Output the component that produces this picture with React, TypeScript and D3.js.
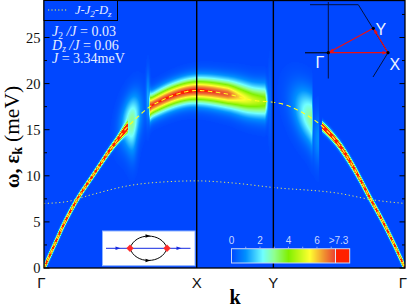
import React, { useMemo } from "react";
import * as d3 from "d3";

const W = 411, H = 307;
const M = { l: 44, r: 405, t: 0.5, b: 268 };

// k path: Gamma - X - Y - Gamma
const kTicks = [0, 1, 1.502, 2.364];
const kLabels = ["Γ", "X", "Y", "Γ"];
const yTicks = [0, 5, 10, 15, 20, 25];
const yMinor = [2.5, 7.5, 12.5, 17.5, 22.5, 27.5];

// magnon dispersion J-J2-Dz
const dispK = [0, .072, .137, .223, .327, .419, .476, .542, .648, .714, .869, 1, 1.205, 1.362, 1.513, 1.598, 1.709, 1.82, 1.926, 2.024, 2.141, 2.22, 2.292, 2.364];
const dispW = [0, 2.65, 5, 7.6, 10.2, 12.5, 13.8, 15.2, 16.9, 17.7, 18.85, 19.25, 18.85, 18.2, 17.95, 17.6, 16.7, 15.4, 13.5, 11, 7.4, 5, 2.6, 0];

// lower dotted curve
const lowK = [0, .15, .3, .58, .8, 1, 1.25, 1.502, 1.93, 2.15, 2.364];
const lowW = [7, 7.2, 7.9, 9, 9.35, 9.45, 9.2, 8.73, 8.1, 7.4, 7];

// spectral intensity along the band
const ampK = [0, .47, .545, .552, .687, .697, 1, 1.205, 1.27, 1.362, 1.447, 1.473, 1.817, 1.824, 2.364];
const ampV = [11, 11, 12, 0, 0, 7.3, 7.5, 7.1, 6, 5, 4.4, 0, 0, 12, 10];
const sigK = [0, .367, .47, .545, .687, .697, 1, 1.218, 1.447, 1.817, 1.906, 2.07, 2.364];
const sigV = [1.3, 1.4, 1.8, 2.5, 9, 9, 11.5, 12.5, 15, 2.7, 2.2, 1.5, 1.3];

// damped humps next to the decay thresholds
const blobK = [1.755, .575, 1.8, .58, .681, 1.48];
const blobW = [16.2, 16.2, 14, 14, 18.5, 18];
const blobLeft = [.11, .07, .04, .04, .012, .012];
const blobRight = [.004, .06, .003, .03, .012, .01];
const blobSig = [2.6, 2.4, 2.6, 2.6, 2.5, 3.5];
const blobTilt = [-13, 13, 0, 0, 0, 0];
const blobAmp = [2.9, 2.5, 1, .9, 1.2, .5];

// colour map
const cmapV = [0, 1, 2.2, 3, 4, 5.5, 6.5, 7.2, 7.3];
const cmapC = ["#0047ff", "#0090ff", "#70ffff", "#90ff90", "#80f000", "#ffff30", "#f09030", "#ea4a30", "#ff2000"];
const barTicks = [0, 2, 4, 6];

const x = d3.scaleLinear().domain([0, 2.364]).range([M.l, M.r]);
const y = d3.scaleLinear().domain([0, 29]).range([M.b, M.b - 29 * 9.22]);
const color = d3.scaleLinear<string>().domain(cmapV).range(cmapC).clamp(true);
const ampS = d3.scaleLinear().domain(ampK).range(ampV);
const sigS = d3.scaleLinear().domain(sigK).range(sigV);
const barX = d3.scaleLinear().domain([0, 7.3]).range([231.5, 335.5]);

// smooth reading of the dispersion between its read points
const dispT = dispK.map((k, i) => {
  const a = Math.max(0, i - 1), b = Math.min(dispK.length - 1, i + 1);
  return (dispW[b] - dispW[a]) / (dispK[b] - dispK[a]);
});
function dispS(k: number) {
  const c = Math.max(0, Math.min(2.364, k));
  const i = Math.min(dispK.length - 2, Math.max(0, d3.bisectRight(dispK, c) - 1));
  const h = dispK[i + 1] - dispK[i], t = (c - dispK[i]) / h;
  const t2 = t * t, t3 = t2 * t;
  return (2 * t3 - 3 * t2 + 1) * dispW[i] + (t3 - 2 * t2 + t) * h * dispT[i] + (-2 * t3 + 3 * t2) * dispW[i + 1] + (t3 - t2) * h * dispT[i + 1];
}
const dispFine = d3.range(0, 2.3641, 0.01);

function intensity(px: number, py: number) {
  const k = x.invert(px), w = y.invert(py);
  const bandY = y(dispS(k));
  const dk = 2 / 152.7;
  const slope = (y(dispS(k + dk)) - y(dispS(k - dk))) / 4;
  const vs = sigS(k) * Math.sqrt(1 + slope * slope);
  const d = Math.abs(py - bandY) / vs;
  let v = ampS(k) * Math.exp(-Math.pow(d, 1.8));
  blobK.forEach((bk, i) => {
    const dx = k - bk;
    const sx = dx < 0 ? blobLeft[i] : blobRight[i];
    const dw = (w - blobW[i] - blobTilt[i] * dx) / blobSig[i];
    v += blobAmp[i] * Math.exp(-(dx * dx) / (sx * sx) - dw * dw);
  });
  return v;
}

const serif = "'Liberation Serif', serif";
const sans = "'Liberation Sans', sans-serif";

const Heat = React.memo(function Heat() {
  const cells = useMemo(() => {
    const out: { px: number; py: number; c: string }[] = [];
    for (const px of d3.range(M.l, M.r)) {
      for (const py of d3.range(1, M.b)) {
        const v = intensity(px + .5, py + .5);
        if (v > .04) out.push({ px, py, c: color(v) });
      }
    }
    return out;
  }, []);
  return (
    <g shapeRendering="crispEdges">
      {cells.map((c) => <rect key={c.px * 1000 + c.py} x={c.px} y={c.py} width={1} height={1} fill={c.c} />)}
    </g>
  );
});

function arrowHead(cx: number, cy: number, ang: number, size: number, fill: string) {
  const p = d3.path();
  const a = (ang * Math.PI) / 180;
  const c = Math.cos(a), s = Math.sin(a);
  p.moveTo(cx + size * c, cy + size * s);
  p.lineTo(cx - size * c - size * .7 * s, cy - size * s + size * .7 * c);
  p.lineTo(cx - size * c + size * .7 * s, cy - size * s - size * .7 * c);
  p.closePath();
  return <path d={p.toString()} fill={fill} />;
}

export default function App() {
  const line = d3.line<number>().x((k) => x(k)).y((k) => y(dispS(k)));
  const lowLine = d3.line<number>().x((_, i) => x(lowK[i])).y((d) => y(d)).curve(d3.curveMonotoneX);
  const barCols = d3.range(Math.ceil(barX(0)), 336);
  const G = { x: 328.3, y: 52.7 }, X = { x: 388, y: 52.7 }, Y = { x: 373.3, y: 28.3 };
  const txt = "#e6eeff";
  return (
    <svg width={W} height={H} style={{ position: "absolute", left: 0, top: 0, background: "#fff" }}>
      <rect x={M.l} y={M.t} width={M.r - M.l} height={M.b - M.t} fill="#0047ff" />
      <Heat />

      {/* curves */}
      <path d={lowLine(lowW) || ""} fill="none" stroke="#e8e860" strokeWidth={1} strokeDasharray="1.2 2.6" />
      <path d={line(dispFine) || ""} fill="none" stroke="#ffff20" strokeWidth={1.1} strokeDasharray="4.5 3.5" />

      {/* symmetry lines */}
      {kTicks.slice(1, 3).map((k) => (
        <line key={k} x1={x(k)} x2={x(k)} y1={M.t} y2={M.b} stroke="#000" strokeWidth={1.4} />
      ))}

      {/* y ticks */}
      {yTicks.map((t) => (
        <g key={t}>
          <line x1={M.l} x2={M.l + 5.5} y1={y(t)} y2={y(t)} stroke="#000" strokeWidth={1} />
          <line x1={M.r} x2={M.r - 5.5} y1={y(t)} y2={y(t)} stroke="#000" strokeWidth={1} />
          <text x={40.5} y={y(t) + 5} textAnchor="end" fontFamily={serif} fontSize={14.5} fill="#111">{t}</text>
        </g>
      ))}
      {yMinor.map((t) => (
        <g key={t}>
          <line x1={M.l} x2={M.l + 3} y1={y(t)} y2={y(t)} stroke="#000" strokeWidth={1} />
          <line x1={M.r} x2={M.r - 3} y1={y(t)} y2={y(t)} stroke="#000" strokeWidth={1} />
        </g>
      ))}

      {/* frame */}
      <rect x={M.l} y={M.t} width={M.r - M.l} height={M.b - M.t} fill="none" stroke="#000" strokeWidth={1.3} />

      {/* x labels */}
      {kTicks.map((k, i) => (
        <text key={i} x={i === 0 ? 41.5 : i === 3 ? 403 : x(k)} y={288} textAnchor="middle" fontFamily={sans} fontSize={15} fill="#111">{kLabels[i]}</text>
      ))}
      <text x={235} y={303.5} textAnchor="middle" fontFamily={serif} fontWeight="bold" fontSize={20} fill="#000">k</text>

      {/* y label */}
      <text transform="translate(18.5,188) rotate(-90)" fontFamily={serif} fontSize={20} fill="#000">
        <tspan fontWeight="bold">ω, ε</tspan>
        <tspan fontWeight="bold" fontSize={14} dy={3}>k</tspan>
        <tspan dy={-3} dx={5} fontSize={21.5}>(meV)</tspan>
      </text>

      {/* legend */}
      <rect x={M.l} y={M.t} width={73.5} height={20} fill="#0047ff" stroke="#000" strokeWidth={1} />
      <line x1={48} x2={68} y1={10} y2={10} stroke="#ffff40" strokeWidth={1} strokeDasharray="1.2 2.2" />
      <text x={75} y={14} fontFamily={serif} fontStyle="italic" fontSize={12.5} fill={txt}>
        J-J<tspan fontSize={9} dy={2.5}>2</tspan><tspan dy={-2.5}>-D</tspan><tspan fontSize={9} dy={2.5}>z</tspan>
      </text>

      {/* parameters */}
      <g fontFamily={serif} fontSize={14} fill={txt}>
        <text x={52} y={36}><tspan fontStyle="italic">J</tspan><tspan fontSize={9.5} dy={2.5}>2</tspan><tspan dy={-2.5} fontStyle="italic"> /J</tspan> = 0.03</text>
        <text x={52} y={49.5}><tspan fontStyle="italic">D</tspan><tspan fontSize={9.5} fontStyle="italic" dy={2.5}>z</tspan><tspan dy={-2.5} fontStyle="italic"> /J</tspan> = 0.06</text>
        <text x={52} y={62.5}><tspan fontStyle="italic">J</tspan> = 3.34meV</text>
      </g>

      {/* Brillouin zone inset */}
      <g fill="none" stroke="#06123c" strokeWidth={1}>
        <path d="M310,4.7H358.3L388,52.7L373,77" />
        <path d="M328.3,2V78.5" />
        <path d="M305,52.7H328.3" strokeWidth={1.4} />
      </g>
      <g stroke="#ee1010" strokeWidth={1.2}>
        <line x1={G.x} y1={G.y} x2={X.x} y2={X.y} />
        <line x1={X.x} y1={X.y} x2={Y.x} y2={Y.y} />
        <line x1={Y.x} y1={Y.y} x2={G.x} y2={G.y} />
      </g>
      {arrowHead(385, 52.7, 0, 2.5, "#ee1010")}
      {arrowHead(375, 31, -121, 2.5, "#ee1010")}
      {arrowHead(331, 51.2, 151, 2.5, "#ee1010")}
      {[G, X, Y].map((p, i) => <circle key={i} cx={p.x} cy={p.y} r={1.6} fill="#000" />)}
      <g fontFamily={sans} fontSize={16} fill="#eef4ff">
        <text x={315.5} y={68}>Γ</text>
        <text x={375.5} y={34.5}>Y</text>
        <text x={389.5} y={70}>X</text>
      </g>

      {/* colour bar */}
      <g shapeRendering="crispEdges">
        {barCols.map((px) => (
          <rect key={px} x={px} y={248.7} width={1} height={14.3} fill={color(Math.min(barX.invert(px + .5), 7.2))} />
        ))}
        <rect x={335.5} y={248.7} width={14.2} height={14.3} fill="#ff2000" />
      </g>
      <rect x={231.5} y={248.7} width={118.2} height={14.3} fill="none" stroke="#c6d4f4" strokeWidth={1} />
      <line x1={335.5} x2={335.5} y1={248.7} y2={263} stroke="#e4e8f4" strokeWidth={1} />
      {d3.range(1, 8).map((t) => (
        <line key={t} x1={barX(t)} x2={barX(t)} y1={248.7} y2={246.7} stroke="#a8c0f4" strokeWidth={.8} />
      ))}
      <g fontFamily={sans} fontSize={10} fill="#c8d8ff" textAnchor="middle">
        {barTicks.map((t) => <text key={t} x={barX(t)} y={243.5}>{t}</text>)}
        <text x={338.5} y={243.5}>&gt;7.3</text>
      </g>

      {/* self-energy diagram */}
      <rect x={102.5} y={231} width={92.5} height={34.7} fill="#fff" stroke="#8fb4ff" strokeWidth={1} />
      <line x1={106} x2={190.5} y1={248.3} y2={248.3} stroke="#1428e0" strokeWidth={1} />
      {arrowHead(118, 248.3, 0, 2.5, "#1428e0")}
      {arrowHead(179, 248.3, 0, 2.5, "#1428e0")}
      <path d="M130,248.3C135,232 162,232 167,248.3C162,264.5 135,264.5 130,248.3" fill="none" stroke="#000" strokeWidth={1} />
      {arrowHead(148, 236, 0, 2.5, "#000")}
      {arrowHead(148, 260.5, 0, 2.5, "#000")}
      <path d="M130,244.6L133.7,248.3L130,252L126.3,248.3Z" fill="#ff2a2a" />
      <path d="M167,244.6L170.7,248.3L167,252L163.3,248.3Z" fill="#ff2a2a" />
    </svg>
  );
}
